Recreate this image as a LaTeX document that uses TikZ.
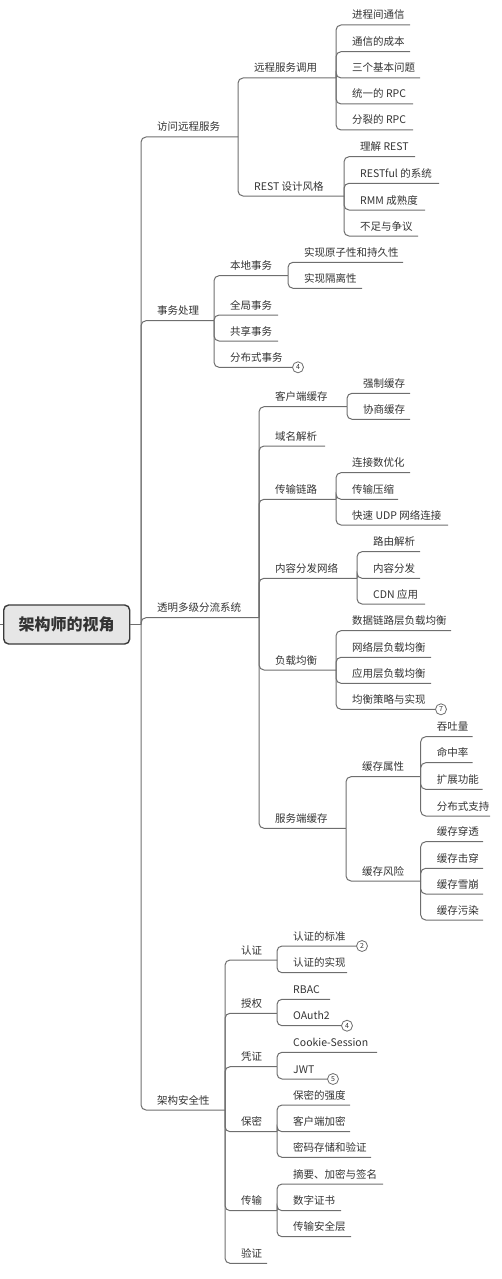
\documentclass[tikz,border=0pt]{standalone}
\usepackage{fontspec}
\setmainfont{Noto Sans CJK SC}
\definecolor{linec}{HTML}{6E6E6E}
\definecolor{textc}{HTML}{333333}
\definecolor{rootfill}{HTML}{E6E6E6}
\definecolor{rootline}{HTML}{3A3A3A}
\tikzset{
  conn/.style={draw=linec, line width=1pt, rounded corners=5pt},
  txt/.style={anchor=base west, inner sep=0pt, text=textc, font=\fontsize{10.5}{12}\selectfont},
  rootbox/.style={draw=rootline, line width=1.4pt, fill=rootfill, rounded corners=5pt,
     minimum width=126pt, minimum height=39pt, inner sep=0pt, text=textc,
     font=\fontsize{16}{18}\selectfont\bfseries},
  badge/.style={circle, draw=linec, line width=0.8pt, fill=white, minimum size=11pt,
     inner sep=0pt, text=textc, font=\fontsize{7}{8}\selectfont}
}
\newcommand\tp[5]{%
  \coordinate (#1) at (#3,#4);
  \node[txt] (#1-t) at ({#2+16},{#4-6}) {#5};}
\begin{document}
\begin{tikzpicture}[x=1pt,y=-1pt]
\useasboundingbox (0,0) rectangle (501,1279);
% root
\node[rootbox] (root) at (66.7,624.5) {架构师的视角};
\coordinate (stub) at (0,624.5);
\coordinate (rootj) at (141,624.5);
% level 1
\tp{A}{141}{238}{137}{访问远程服务}
\tp{B}{141}{214}{320.7}{事务处理}
\tp{C}{141}{259}{617.7}{透明多级分流系统}
\tp{D}{141}{225}{1110}{架构安全性}
% A
\tp{A1}{238}{336}{78}{远程服务调用}
\tp{A2}{238}{344}{196}{REST 设计风格}
\tp{A11}{336}{410}{25}{进程间通信}
\tp{A12}{336}{410}{51.7}{通信的成本}
\tp{A13}{336}{420}{78}{三个基本问题}
\tp{A14}{336}{413}{104}{统一的 RPC}
\tp{A15}{336}{413}{130}{分裂的 RPC}
\tp{A21}{344}{415}{156.7}{理解 REST}
\tp{A22}{344}{439}{183.3}{RESTful 的系统}
\tp{A23}{344}{425}{210}{RMM 成熟度}
\tp{A24}{344}{418}{236}{不足与争议}
% B
\tp{B1}{214}{288}{275.7}{本地事务}
\tp{B2}{214}{278}{315}{全局事务}
\tp{B3}{214}{278}{341}{共享事务}
\tp{B4}{214}{298}{367.3}{分布式事务}
\tp{B11}{288}{403}{262.3}{实现原子性和持久性}
\tp{B12}{288}{362}{288.3}{实现隔离性}
% C
\tp{C1}{259}{347}{406.7}{客户端缓存}
\tp{C2}{259}{325}{446}{域名解析}
\tp{C3}{259}{336}{499.3}{传输链路}
\tp{C4}{259}{357}{578.3}{内容分发网络}
\tp{C5}{259}{336}{670}{负载均衡}
\tp{C6}{259}{346}{828.3}{服务端缓存}
\tp{C11}{347}{410}{393.3}{强制缓存}
\tp{C12}{347}{410}{419.3}{协商缓存}
\tp{C31}{336}{410}{472.7}{连接数优化}
\tp{C32}{336}{398}{499.3}{传输压缩}
\tp{C33}{336}{448}{525}{快速 UDP 网络连接}
\tp{C41}{357}{420}{551.7}{路由解析}
\tp{C42}{357}{420}{578.3}{内容分发}
\tp{C43}{357}{425}{604}{CDN 应用}
\tp{C51}{336}{451}{630.7}{数据链路层负载均衡}
\tp{C52}{336}{431}{657.3}{网络层负载均衡}
\tp{C53}{336}{431}{683.3}{应用层负载均衡}
\tp{C54}{336}{441}{709.3}{均衡策略与实现}
\tp{C61}{346}{420.7}{776.7}{缓存属性}
\tp{C62}{346}{420.7}{881}{缓存风险}
\tp{C611}{420.7}{472.7}{736.7}{吞吐量}
\tp{C612}{420.7}{472.7}{762.7}{命中率}
\tp{C613}{420.7}{482.7}{789.3}{扩展功能}
\tp{C614}{420.7}{490}{816}{分布式支持}
\tp{C621}{420.7}{483}{841.7}{缓存穿透}
\tp{C622}{420.7}{483}{868.3}{缓存击穿}
\tp{C623}{420.7}{483}{894}{缓存雪崩}
\tp{C624}{420.7}{483}{920}{缓存污染}
% D
\tp{D1}{225}{277}{960}{认证}
\tp{D2}{225}{277}{1013.3}{授权}
\tp{D3}{225}{277}{1066.7}{凭证}
\tp{D4}{225}{277}{1131.7}{保密}
\tp{D5}{225}{277}{1210.7}{传输}
\tp{D6}{225}{267}{1263.3}{验证}
\tp{D11}{277}{362}{946}{认证的标准}
\tp{D12}{277}{347}{972.7}{认证的实现}
\tp{D21}{277}{330}{999.3}{RBAC}
\tp{D22}{277}{347}{1025.7}{OAuth2}
\tp{D31}{277}{377}{1052.3}{Cookie-Session}
\tp{D32}{277}{333}{1079}{JWT}
\tp{D41}{277}{350}{1105}{保密的强度}
\tp{D42}{277}{350}{1131.7}{客户端加密}
\tp{D43}{277}{371}{1157.3}{密码存储和验证}
\tp{D51}{277}{383}{1184}{摘要、加密与签名}
\tp{D52}{277}{341}{1210.7}{数字证书}
\tp{D53}{277}{351}{1236.7}{传输安全层}
% connectors
\draw[conn] (stub) -- (root.west);
\draw[conn] (root.east) -- (rootj);
\foreach \c in {A,B,C,D} \draw[conn] (rootj) |- (\c);
\foreach \c in {A1,A2} \draw[conn] (A) |- (\c);
\foreach \c in {A11,A12,A13,A14,A15} \draw[conn] (A1) |- (\c);
\foreach \c in {A21,A22,A23,A24} \draw[conn] (A2) |- (\c);
\foreach \c in {B1,B2,B3,B4} \draw[conn] (B) |- (\c);
\foreach \c in {B11,B12} \draw[conn] (B1) |- (\c);
\foreach \c in {C1,C2,C3,C4,C5,C6} \draw[conn] (C) |- (\c);
\foreach \c in {C11,C12} \draw[conn] (C1) |- (\c);
\foreach \c in {C31,C32,C33} \draw[conn] (C3) |- (\c);
\foreach \c in {C41,C42,C43} \draw[conn] (C4) |- (\c);
\foreach \c in {C51,C52,C53,C54} \draw[conn] (C5) |- (\c);
\foreach \c in {C61,C62} \draw[conn] (C6) |- (\c);
\foreach \c in {C611,C612,C613,C614} \draw[conn] (C61) |- (\c);
\foreach \c in {C621,C622,C623,C624} \draw[conn] (C62) |- (\c);
\foreach \c in {D1,D2,D3,D4,D5,D6} \draw[conn] (D) |- (\c);
\foreach \c in {D11,D12} \draw[conn] (D1) |- (\c);
\foreach \c in {D21,D22} \draw[conn] (D2) |- (\c);
\foreach \c in {D31,D32} \draw[conn] (D3) |- (\c);
\foreach \c in {D41,D42,D43} \draw[conn] (D4) |- (\c);
\foreach \c in {D51,D52,D53} \draw[conn] (D5) |- (\c);
% badges
\node[badge] (B4-b) at (B4) {4};
\node[badge] (C54-b) at (C54) {7};
\node[badge] (D11-b) at (D11) {2};
\node[badge] (D22-b) at (D22) {4};
\node[badge] (D32-b) at (D32) {5};
\end{tikzpicture}
\end{document}
